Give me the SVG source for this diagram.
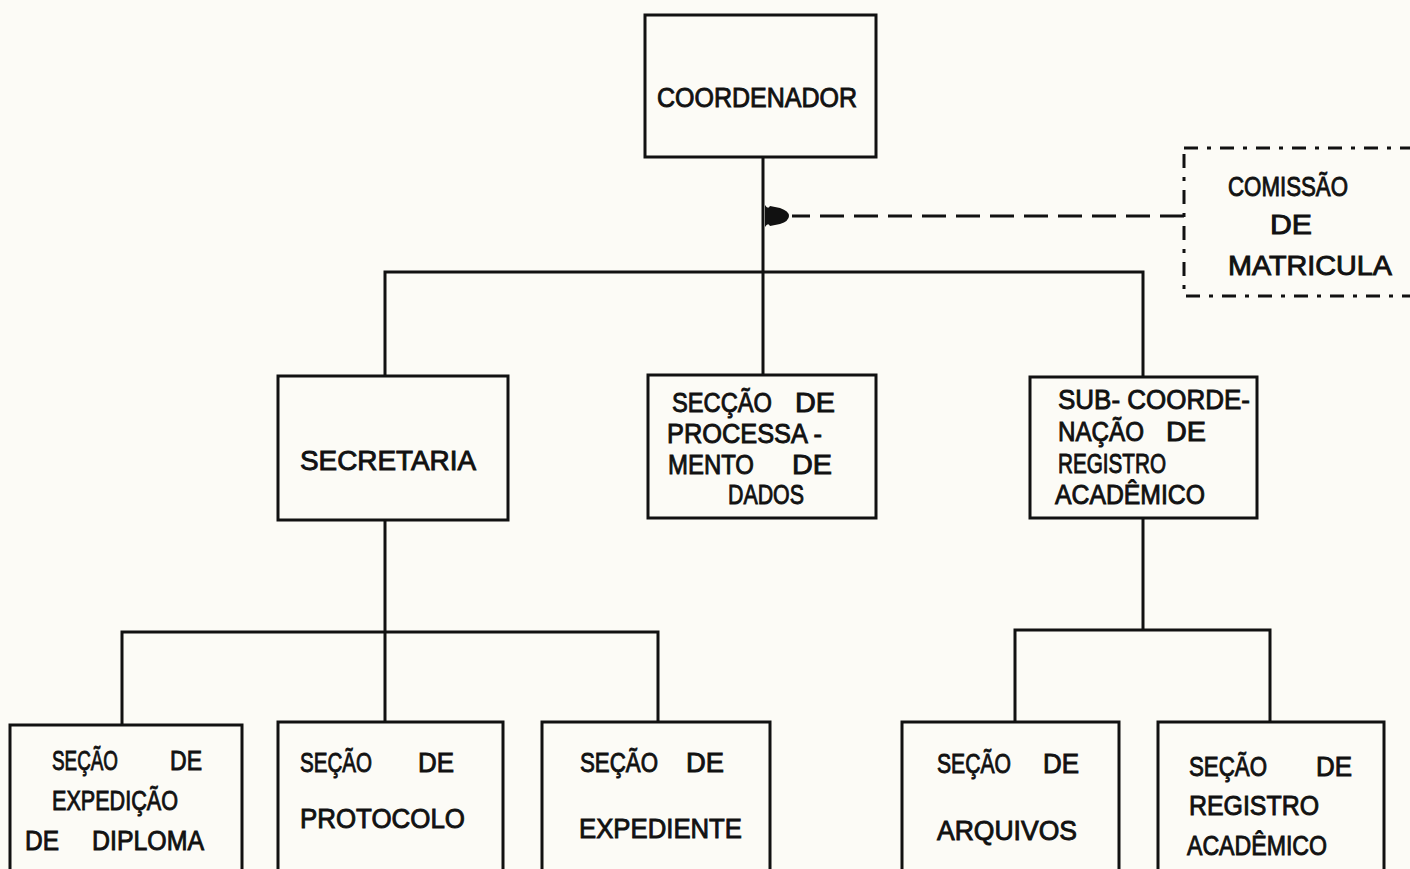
<svg xmlns="http://www.w3.org/2000/svg" width="1410" height="869" viewBox="0 0 1410 869">
<defs>
<style>
.box{fill:none;stroke:#111;stroke-width:3}
.ln{fill:none;stroke:#111;stroke-width:3}
.dash{fill:none;stroke:#111;stroke-width:3;stroke-dasharray:24 10}
.dbox{fill:none;stroke:#111;stroke-width:3;stroke-dasharray:14 9 4 9}
text{font-family:"Liberation Sans",Arial,sans-serif;font-size:27px;fill:#111;stroke:#111;stroke-width:0.9}
</style>
</defs>
<rect width="1410" height="869" fill="#fcfbf6"/>
<g id="connectors">
<path class="ln" d="M763,157 V375"/>
<path class="ln" d="M385,376 V272 H1143 V377"/>
<path class="ln" d="M385,520 V632"/>
<path class="ln" d="M122,725 V632 H658 V722"/>
<path class="ln" d="M385,632 V722"/>
<path class="ln" d="M1143,518 V630"/>
<path class="ln" d="M1015,722 V630 H1270 V722"/>
<path class="dash" d="M1184,216 H792"/>
<path d="M765,205 Q768,210 770,206 L780,208 Q789,211 789,216 Q789,221 780,224 L770,226 Q768,222 765,227 Z" fill="#111"/>
</g>
<g id="coordenador">
<rect class="box" x="645" y="15" width="231" height="142"/>
<text x="657" y="107" textLength="200" lengthAdjust="spacingAndGlyphs">COORDENADOR</text>
</g>
<g id="comissao">
<rect class="dbox" x="1184" y="148" width="240" height="148"/>
<text x="1228" y="196" textLength="120" lengthAdjust="spacingAndGlyphs">COMISSÃO</text>
<text x="1270" y="234" textLength="42" lengthAdjust="spacingAndGlyphs">DE</text>
<text x="1228" y="275" textLength="164" lengthAdjust="spacingAndGlyphs">MATRICULA</text>
</g>
<g id="secretaria">
<rect class="box" x="278" y="376" width="230" height="144"/>
<text x="300" y="470" textLength="176" lengthAdjust="spacingAndGlyphs">SECRETARIA</text>
</g>
<g id="processamento">
<rect class="box" x="648" y="375" width="228" height="143"/>
<text y="412"><tspan x="672" textLength="100" lengthAdjust="spacingAndGlyphs">SECÇÃO</tspan> <tspan x="795" textLength="40" lengthAdjust="spacingAndGlyphs">DE</tspan></text>
<text x="667" y="443" textLength="155" lengthAdjust="spacingAndGlyphs">PROCESSA -</text>
<text y="474"><tspan x="668" textLength="86" lengthAdjust="spacingAndGlyphs">MENTO</tspan> <tspan x="792" textLength="40" lengthAdjust="spacingAndGlyphs">DE</tspan></text>
<text x="728" y="504" textLength="76" lengthAdjust="spacingAndGlyphs">DADOS</text>
</g>
<g id="subcoordenacao">
<rect class="box" x="1030" y="377" width="227" height="141"/>
<text x="1058" y="409" textLength="192" lengthAdjust="spacingAndGlyphs">SUB- COORDE-</text>
<text y="441"><tspan x="1058" textLength="86" lengthAdjust="spacingAndGlyphs">NAÇÃO</tspan> <tspan x="1166" textLength="40" lengthAdjust="spacingAndGlyphs">DE</tspan></text>
<text x="1058" y="473" textLength="108" lengthAdjust="spacingAndGlyphs">REGISTRO</text>
<text x="1055" y="504" textLength="150" lengthAdjust="spacingAndGlyphs">ACADÊMICO</text>
</g>
<g id="expedicao-diploma">
<rect class="box" x="10" y="725" width="232" height="160"/>
<text y="770"><tspan x="52" textLength="66" lengthAdjust="spacingAndGlyphs">SEÇÃO</tspan> <tspan x="170" textLength="32" lengthAdjust="spacingAndGlyphs">DE</tspan></text>
<text x="52" y="810" textLength="126" lengthAdjust="spacingAndGlyphs">EXPEDIÇÃO</text>
<text y="850"><tspan x="25" textLength="34" lengthAdjust="spacingAndGlyphs">DE</tspan> <tspan x="92" textLength="112" lengthAdjust="spacingAndGlyphs">DIPLOMA</tspan></text>
</g>
<g id="protocolo">
<rect class="box" x="278" y="722" width="225" height="160"/>
<text y="772"><tspan x="300" textLength="72" lengthAdjust="spacingAndGlyphs">SEÇÃO</tspan> <tspan x="418" textLength="36" lengthAdjust="spacingAndGlyphs">DE</tspan></text>
<text x="300" y="828" textLength="165" lengthAdjust="spacingAndGlyphs">PROTOCOLO</text>
</g>
<g id="expediente">
<rect class="box" x="542" y="722" width="228" height="160"/>
<text y="772"><tspan x="580" textLength="78" lengthAdjust="spacingAndGlyphs">SEÇÃO</tspan> <tspan x="686" textLength="38" lengthAdjust="spacingAndGlyphs">DE</tspan></text>
<text x="579" y="838" textLength="163" lengthAdjust="spacingAndGlyphs">EXPEDIENTE</text>
</g>
<g id="arquivos">
<rect class="box" x="902" y="722" width="217" height="160"/>
<text y="773"><tspan x="937" textLength="74" lengthAdjust="spacingAndGlyphs">SEÇÃO</tspan> <tspan x="1043" textLength="36" lengthAdjust="spacingAndGlyphs">DE</tspan></text>
<text x="937" y="840" textLength="140" lengthAdjust="spacingAndGlyphs">ARQUIVOS</text>
</g>
<g id="registro-academico">
<rect class="box" x="1158" y="722" width="226" height="160"/>
<text y="776"><tspan x="1189" textLength="78" lengthAdjust="spacingAndGlyphs">SEÇÃO</tspan> <tspan x="1316" textLength="36" lengthAdjust="spacingAndGlyphs">DE</tspan></text>
<text x="1189" y="815" textLength="130" lengthAdjust="spacingAndGlyphs">REGISTRO</text>
<text x="1187" y="855" textLength="140" lengthAdjust="spacingAndGlyphs">ACADÊMICO</text>
</g>
</svg>
